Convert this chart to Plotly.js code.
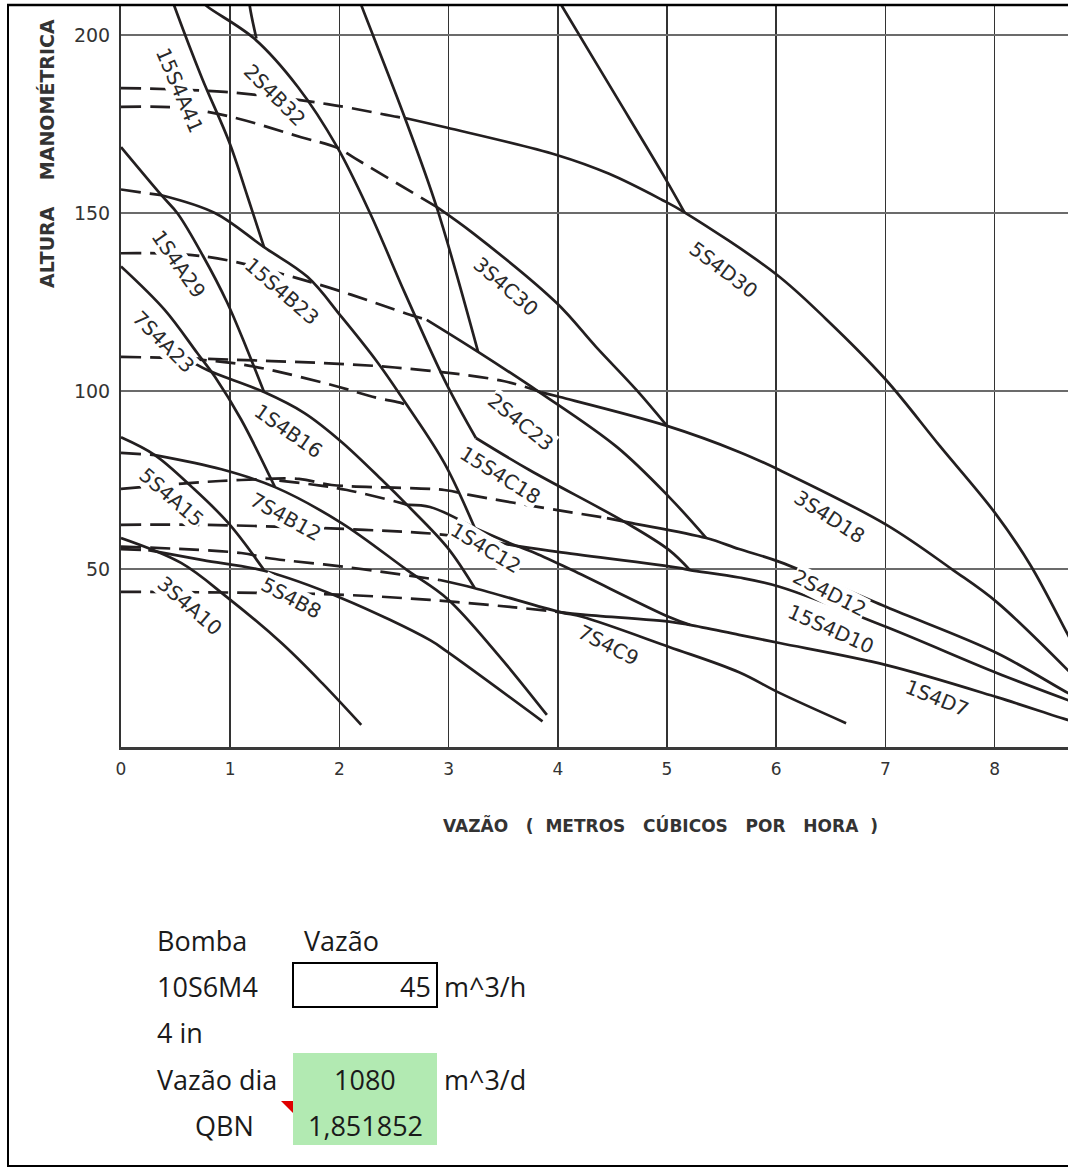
<!DOCTYPE html>
<html><head><meta charset="utf-8">
<script src="https://cdn.plot.ly/plotly-3.0.1.min.js"></script>
<style>html,body{margin:0;padding:0;background:#fff;}#chart{width:1068px;height:1168px;}</style>
</head><body><div id="chart"></div>
<script>
// ---- axis ticks ----
const xTicks = [0,1,2,3,4,5,6,7,8];
const xTickText = ['0','1','2','3','4','5','6','7','8'];
const yTicks = [50,100,150,200];
const yTickText = ['50','100','150','200'];

// ---- solid pump curves: vazão (m3/h) / altura (m) ----
const q15S4A41 = [0.45,0.49,0.74,0.99,1.16,1.31];
const h15S4A41 = [211.5,208,188,170,154.5,140.4];
const qTopShort = [1.17,1.18,1.24];
const hTopShort = [212,208,199];
const q2S4B32 = [0.72,0.79,1.22,1.62,1.98,2.28,2.6,2.98,3.25];
const h2S4B32 = [210,208,199,185.4,168.5,150,127.5,102,86.8];
const qSteepC = [2.15,2.2,2.6,2.89,3.27];
const hSteepC = [212.5,208.4,176.7,151.7,111];
const qSteepD = [3.98,4.04,4.5,4.96,5.16];
const hSteepD = [211,208,184.5,161,150.2];
const q5S4D30 = [2.6,2.98,3.99,4.47,4.96,5.16,6.0,6.46,7.0,7.5,8.0,8.33,8.66,8.75];
const h5S4D30 = [176.7,174,166.3,161,153.6,150.2,132.8,120.1,103.3,84.5,65.9,51,32.2,27];
const q3S4C30 = [2.89,3.22,3.99,4.35,4.72,5.0];
const h3S4C30 = [151.7,144.4,124.7,112.4,100.3,90.2];
const q15S4B23 = [0.37,0.86,1.31,1.71,2.02,2.35,2.62,2.96,3.24];
const h15S4B23 = [155,150,140.4,132,120.8,108,96,79.8,61.5];
const q1S4A29 = [0,0.37,0.52,0.75,0.97,1.15,1.31];
const h1S4A29 = [168.5,155,149.8,138,125,112,99.7];
const q7S4A23 = [0,0.4,0.7,0.86,1.1,1.41];
const h7S4A23 = [135,122.8,110.6,104,92,73];
const q1S4B16 = [0.6,0.79,1.31,1.68,2.02,2.39,2.62,2.99,3.24];
const h1S4B16 = [109.1,105.9,99.7,93.8,85.7,75,68,56,44.6];
const q7S4B12 = [0.31,0.92,1.41,2.02,2.62,2.99,3.44,3.9];
const h7S4B12 = [82,78,73,62.9,49.7,41.6,26.4,9];
const q5S4A15 = [0,0.31,0.65,0.98,1.31];
const h5S4A15 = [87,82,73,63,49.7];
const q5S4B8 = [0.25,0.75,1.31,2.02,2.83,2.99,3.86];
const h5S4B8 = [55.3,52.5,49.5,41.8,30,26.7,7.2];
const q3S4A10 = [0,0.55,0.97,1.47,1.84,2.2];
const h3S4A10 = [58.7,51.7,42.1,29.2,18,6.2];
const q2S4C23 = [2.8,3.27,3.83,4.54,5.02,5.36];
const h2S4C23 = [120,111,99.7,84.3,70.2,58.7];
const q3S4D18 = [3.85,4.02,5.0,5.66,6.03,7.01,7.62,8.02,8.67,8.75];
const h3S4D18 = [99.6,98.3,90.2,82.9,77.8,62.4,49.7,40.7,21.6,19];
const q15S4C18 = [3.25,3.74,4.63,5.02,5.21];
const h15S4C18 = [86.8,77.8,62.9,55.3,49.7];
const q2S4D12 = [4.45,4.68,5.36,5.66,6.03,7.01,8.02,8.67,8.75];
const h2S4D12 = [64.3,62.9,58.7,55.6,52,39.3,26.4,15.2,14];
const q15S4D10 = [3.62,4.0,5.11,5.21,5.66,6.03,7.01,8.02,8.67,8.75];
const h15S4D10 = [56.5,54.8,50.3,49.7,47.6,45,33.7,20.8,13.2,12.3];
const q1S4C12 = [3.24,3.62,3.77,4.13,5.02,5.21];
const h1S4C12 = [61.5,56.5,54.8,49.7,36.5,34.3];
const q1S4D7 = [4.02,4.23,5.05,5.21,5.66,6.03,7.01,8.02,8.67,8.75];
const h1S4D7 = [37.9,37.2,35.1,34.3,31.5,29.2,23,14,7.6,7];
const q7S4C9 = [2.92,3.24,4.02,4.23,5.02,5.66,6.03,6.64];
const h7S4C9 = [46.9,44.6,37.9,36.5,28.1,21,15.2,6.7];
const qLink = [2.62,2.83,3.24];
const hLink = [68,67.4,61.5];

// ---- dashed (low-flow) portions ----
const q5S4D30d = [0,0.95,1.89,2.53,2.6];
const h5S4D30d = [185.1,184,180.6,177,176.7];
const q3S4C30d = [0,0.55,1.01,1.65,1.98,2.14,2.89];
const h3S4C30d = [179.8,179.5,177,171.3,168.3,165.4,151.7];
const q15S4B23d = [0,0.37];
const h15S4B23d = [156.6,155];
const q2S4C23d = [0,0.79,1.77,2.69,2.8];
const h2S4C23d = [138.7,137.7,130.3,121,120];
const q3S4D18d = [0,1.31,2.51,3.5,3.85];
const h3S4D18d = [109.6,108.5,106.6,102.8,99.6];
const qMidD = [0.6,1.01,1.31,1.93,2.34,2.57,2.62];
const hMidD = [109.1,107.9,106.3,101.7,98.1,96.6,96];
const q7S4B12d = [0,0.31];
const h7S4B12d = [82.6,82];
const q2S4D12d = [0,0.65,1.1,1.63,1.93,2.96,3.19,3.83,4.45];
const h2S4D12d = [72.5,74.2,75,75.3,73.6,72.2,70.8,67.4,64.3];
const qLinkD = [1.45,1.81,2.07,2.57,2.62];
const hLinkD = [74.8,73.5,72.2,68.5,68];
const q15S4D10d = [0,0.76,2.23,2.96,3.62];
const h15S4D10d = [62.4,62.4,61,59.6,56.5];
const q5S4B8d = [0,0.25];
const h5S4B8d = [55.6,55.3];
const q7S4C9d = [0,1.1,1.34,2.05,2.92];
const h7S4C9d = [56.3,54.5,53.1,50.6,46.9];
const q1S4D7d = [0,1.25,2.07,2.83,3.58,4.02];
const h1S4D7d = [43.6,43.3,42.7,41.3,39.3,37.9];

// ---- curve labels ----
const labelText = ['15S4A41','2S4B32','1S4A29','15S4B23','7S4A23','3S4C30','5S4D30','1S4B16','5S4A15','7S4B12','3S4A10','5S4B8','2S4C23','15S4C18','1S4C12','7S4C9','3S4D18','2S4D12','15S4D10','1S4D7'];
const labelQ = [0.536,1.406,0.527,1.47,0.39,3.53,5.52,1.534,0.46,1.51,0.63,1.56,3.66,3.47,3.34,4.46,6.49,6.49,6.5,7.47];
const labelH = [184.6,183.1,135.7,128.1,113.8,129.2,134,88.8,70.2,64.6,39.6,41.9,91.3,76.4,55.9,28.7,64.6,43.2,33.1,13.8];
const labelAngle = [67,45,55,41,45,41,37,35,41,29,41,28,39,32,31,27,33,27,24,22];

// ---- spreadsheet block ----
const sheetLabels = ['Bomba','Vazão','10S6M4','m^3/h','4 in','Vazão dia','m^3/d','QBN'];
const sheetValues = ['45','1080','1,851852'];

const solid = [
 [q15S4A41,h15S4A41],[qTopShort,hTopShort],[q2S4B32,h2S4B32],[qSteepC,hSteepC],[qSteepD,hSteepD],
 [q5S4D30,h5S4D30],[q3S4C30,h3S4C30],[q15S4B23,h15S4B23],[q1S4A29,h1S4A29],[q7S4A23,h7S4A23],
 [q1S4B16,h1S4B16],[q7S4B12,h7S4B12],[q5S4A15,h5S4A15],[q5S4B8,h5S4B8],[q3S4A10,h3S4A10],
 [q2S4C23,h2S4C23],[q3S4D18,h3S4D18],[q15S4C18,h15S4C18],[q2S4D12,h2S4D12],[q15S4D10,h15S4D10],
 [q1S4C12,h1S4C12],[q1S4D7,h1S4D7],[q7S4C9,h7S4C9],[qLink,hLink]
];
const dashed = [
 [q5S4D30d,h5S4D30d],[q3S4C30d,h3S4C30d],[q15S4B23d,h15S4B23d],[q2S4C23d,h2S4C23d],[q3S4D18d,h3S4D18d],
 [qMidD,hMidD],[q7S4B12d,h7S4B12d],[q2S4D12d,h2S4D12d],[qLinkD,hLinkD],[q15S4D10d,h15S4D10d],
 [q5S4B8d,h5S4B8d],[q7S4C9d,h7S4C9d],[q1S4D7d,h1S4D7d]
];
const INK = '#231f20';
const traces = [];
solid.forEach(([x,y]) => traces.push({x, y, type:'scatter', mode:'lines', hoverinfo:'skip',
  line:{color:INK, width:2.7, shape:'spline', smoothing:1}}));
dashed.forEach(([x,y]) => traces.push({x, y, type:'scatter', mode:'lines', hoverinfo:'skip',
  line:{color:INK, width:2.7, dash:'20px,9px', shape:'spline', smoothing:1}}));

const W = 1068, H = 1168, ML = 121, MT = 5, MB = 421, MR = 0;
const plotW = W - ML - MR, plotH = H - MT - MB;
const px = p => (p - ML) / plotW;
const py = p => (H - MB - p) / plotH;

const annotations = labelText.map((t,i) => ({
  x: labelQ[i], y: labelH[i], xref:'x', yref:'y', text:t, showarrow:false, textangle: labelAngle[i],
  xanchor:'center', yanchor:'middle',
  font:{family:'DejaVu Sans', size:20, color:'#2a2a2a'}, bgcolor:'#ffffff', borderpad:0
}));
const sp = '\u00a0\u00a0\u00a0';
annotations.push({xref:'paper', yref:'paper', x:px(660), y:py(825), xanchor:'center', yanchor:'middle', showarrow:false,
  text:'<b>VAZÃO'+sp+'(\u00a0\u00a0METROS'+sp+'CÚBICOS'+sp+'POR'+sp+'HORA\u00a0\u00a0)</b>',
  font:{family:'DejaVu Sans', size:17, color:'#333'}});
annotations.push({xref:'paper', yref:'paper', x:px(47), y:py(154), xanchor:'center', yanchor:'middle', showarrow:false, textangle:-90,
  text:'<b>ALTURA\u00a0\u00a0\u00a0\u00a0MANOMÉTRICA</b>', font:{family:'DejaVu Sans', size:19, color:'#333'}});

const sheetFont = {family:'Open Sans', size:27, color:'#1a1a1a'};
const sheetLabelPos = [[155,940],[302,940],[155,986],[442,986],[155,1032],[155,1079],[442,1079],[193,1125]];
sheetLabels.forEach((t,i) => annotations.push({xref:'paper', yref:'paper', x:px(sheetLabelPos[i][0]), y:py(sheetLabelPos[i][1]),
  xanchor:'left', yanchor:'middle', text:t, showarrow:false, font:sheetFont}));
const sheetValuePos = [[433,986,'right'],[365,1079,'center'],[365,1125,'center']];
sheetValues.forEach((t,i) => annotations.push({xref:'paper', yref:'paper', x:px(sheetValuePos[i][0]), y:py(sheetValuePos[i][1]),
  xanchor:sheetValuePos[i][2], yanchor:'middle', text:t, showarrow:false, font:sheetFont}));

const shapes = [
  {type:'rect', xref:'paper', yref:'paper', x0:px(293), x1:px(437), y0:py(1053), y1:py(1145), fillcolor:'rgb(178,234,178)', line:{width:0}, layer:'below'},
  {type:'rect', xref:'paper', yref:'paper', x0:px(293), x1:px(437), y0:py(963), y1:py(1007), line:{color:'#000', width:2}},
  {type:'path', xref:'paper', yref:'paper', path:`M ${px(281)},${py(1101)} L ${px(293)},${py(1101)} L ${px(293)},${py(1113)} Z`, fillcolor:'#e00000', line:{width:0}},
  {type:'line', xref:'paper', yref:'paper', x0:px(8), x1:px(8), y0:py(4), y1:py(1166), line:{color:'#000', width:2}},
  {type:'line', xref:'paper', yref:'paper', x0:px(7), x1:px(1068), y0:py(5), y1:py(5), line:{color:'#000', width:2.5}},
  {type:'line', xref:'paper', yref:'paper', x0:px(7), x1:px(1068), y0:py(1166), y1:py(1166), line:{color:'#000', width:2}}
];

const layout = {
  width:W, height:H, margin:{l:ML, r:MR, t:MT, b:MB, pad:0},
  paper_bgcolor:'#fff', plot_bgcolor:'#fff', showlegend:false,
  xaxis:{range:[0, plotW/109.2], tickvals:xTicks, ticktext:xTickText, showgrid:true, gridcolor:'#333', gridwidth:1.6,
    zeroline:false, showline:true, linecolor:'#3a3a3a', linewidth:2.5, ticks:'', ticklabelstandoff:5,
    tickfont:{family:'DejaVu Sans', size:17, color:'#333'}, fixedrange:true},
  yaxis:{range:[0, plotH/3.56], tickvals:yTicks, ticktext:yTickText, showgrid:true, gridcolor:'#6b6b6b', gridwidth:2.5,
    zeroline:false, showline:true, linecolor:'#333', linewidth:2, ticks:'', ticklabelstandoff:5,
    tickfont:{family:'DejaVu Sans', size:19, color:'#333'}, fixedrange:true},
  annotations, shapes
};
Plotly.newPlot('chart', traces, layout, {staticPlot:true, displayModeBar:false});
</script></body></html>
